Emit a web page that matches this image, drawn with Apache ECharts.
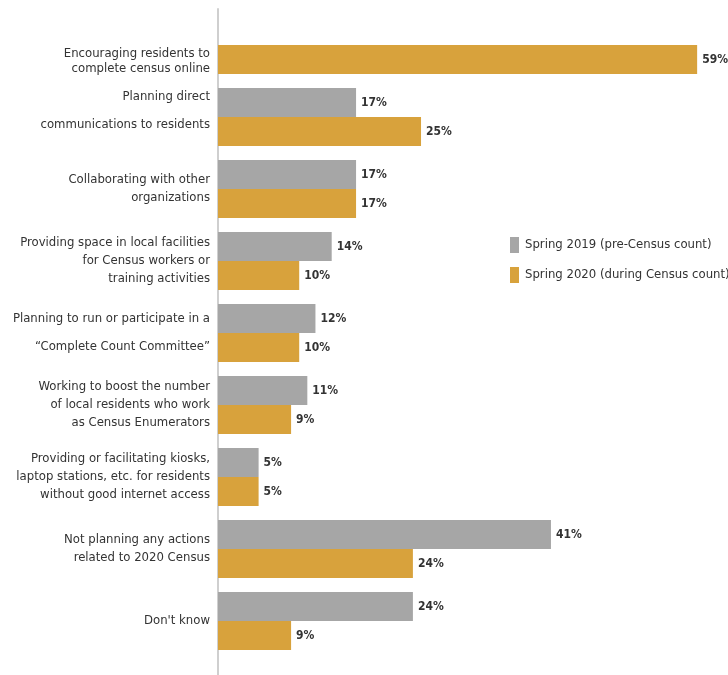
<!DOCTYPE html>
<html>
<head>
<meta charset="utf-8">
<script src="https://cdn.jsdelivr.net/npm/echarts@6/dist/echarts.min.js"></script>
<style>
  html, body { margin: 0; padding: 0; background: #fff; }
  #main { width: 728px; height: 675px; }
</style>
</head>
<body>
<div id="main"></div>
<script>
var categories = [
	'Encouraging residents to\ncomplete census online',
	'Planning direct\ncommunications to residents',
	'Collaborating with other\norganizations',
	'Providing space in local facilities\nfor Census workers or\ntraining activities',
	'Planning to run or participate in a\n\u201cComplete Count Committee\u201d',
	'Working to boost the number\nof local residents who work\nas Census Enumerators',
	'Providing or facilitating kiosks,\nlaptop stations, etc. for residents\nwithout good internet access',
	'Not planning any actions\nrelated to 2020 Census',
	"Don't know"
];
var spring2019 = [null, 17, 17, 14, 12, 11, 5, 41, 24];
var spring2020 = [59, 25, 17, 10, 10, 9, 5, 24, 9];
var seriesNames = ['Spring 2019 (pre-Census count)', 'Spring 2020 (during Census count)'];

var FONT = '"Liberation Sans Narrow", "DejaVu Sans Condensed", sans-serif';

function chart(){
	var dom = document.getElementById('main');
	var myChart = echarts.init(dom);
	var valueLabel = {
		show: true,
		position: 'right',
		distance: 5,
		formatter: '{c}%',
		fontFamily: FONT,
		fontWeight: 'bold',
		fontSize: 12,
		color: '#333'
	};
	// wrapped labels are placed like in the original (some lines line up with the bars)
	function labelFormatter(value, index) {
		var lines = value.split('\n');
		if (index === 0) {
			return '{gTop| }\n' + lines.map(function (l) { return '{l15|' + l + '}'; }).join('\n');
		}
		if (index === 1 || index === 4) {
			var s = lines.map(function (l) { return '{l28|' + l + '}'; }).join('\n');
			return index === 1 ? s + '\n{gBot| }' : s;
		}
		return lines.map(function (l) { return '{n|' + l + '}'; }).join('\n');
	}
	var base = { fontFamily: FONT, fontSize: 13, color: '#333', align: 'right' };
	var option = {
		animation: false,
		textStyle: { fontFamily: FONT },
		grid: { left: 218, right: 0, top: 9, bottom: 18 },
		legend: {
			orient: 'vertical',
			left: 505,
			top: 232,
			itemWidth: 9,
			itemHeight: 16,
			itemGap: 14,
			icon: 'rect',
			textStyle: { fontFamily: FONT, fontSize: 13, color: '#333', padding: [0, 0, 0, 1] },
			data: seriesNames
		},
		xAxis: {
			type: 'value',
			min: 0,
			max: 62.8,
			show: false
		},
		yAxis: {
			type: 'category',
			inverse: true,
			data: categories,
			axisLine: { show: true, lineStyle: { color: '#cfcfcf', width: 2 } },
			axisTick: { show: false },
			axisLabel: {
				margin: 8,
				fontFamily: FONT,
				fontSize: 13,
				lineHeight: 18,
				color: '#333',
				formatter: labelFormatter,
				rich: {
					n: Object.assign({ lineHeight: 18 }, base),
					l15: Object.assign({ lineHeight: 15 }, base),
					l28: Object.assign({ lineHeight: 28 }, base),
					gTop: { fontSize: 1, lineHeight: 32 },
					gBot: { fontSize: 1, lineHeight: 12 }
				}
			}
		},
		graphic: [{
			type: 'line',
			shape: { x1: 218, y1: 657, x2: 218, y2: 675 },
			style: { stroke: '#cfcfcf', lineWidth: 2 }
		}],
		series: [{
			name: seriesNames[0],
			type: 'bar',
			data: spring2019,
			barWidth: 29,
			barGap: '0%',
			itemStyle: { color: '#a6a6a6' },
			label: valueLabel
		}, {
			name: seriesNames[1],
			type: 'bar',
			data: spring2020,
			barWidth: 29,
			barGap: '0%',
			itemStyle: { color: '#d8a23c' },
			label: valueLabel
		}]
	};
	myChart.setOption(option, true);
}

chart();
</script>
</body>
</html>
